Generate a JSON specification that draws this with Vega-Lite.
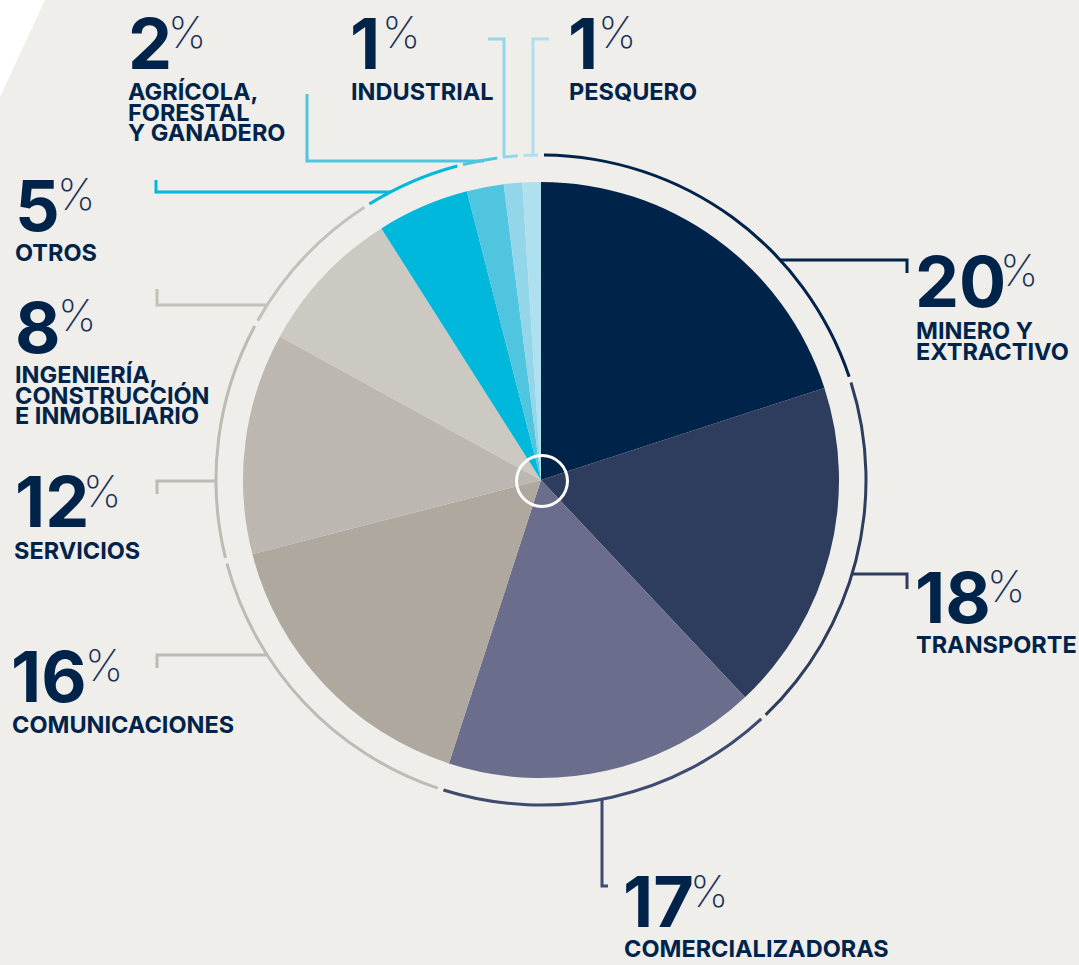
{
  "$schema": "https://vega.github.io/schema/vega-lite/v6.json",
  "width": 1079,
  "height": 965,
  "autosize": {"type": "fit", "contains": "padding"},
  "padding": 0,
  "background": "#EFEEEA",
  "config": {"view": {"stroke": null}},
  "datasets": {
    "sectors": [
      {"rank": 1, "sector": "Minero", "pct": 20},
      {"rank": 2, "sector": "Transporte", "pct": 18},
      {"rank": 3, "sector": "Comercializadoras", "pct": 17},
      {"rank": 4, "sector": "Comunicaciones", "pct": 16},
      {"rank": 5, "sector": "Servicios", "pct": 12},
      {"rank": 6, "sector": "Ingenieria", "pct": 8},
      {"rank": 7, "sector": "Otros", "pct": 5},
      {"rank": 8, "sector": "Agricola", "pct": 2},
      {"rank": 9, "sector": "Industrial", "pct": 1},
      {"rank": 10, "sector": "Pesquero", "pct": 1}
    ],
    "labels": [
      {"sector": "Minero", "pct": 20, "label": "MINERO Y\nEXTRACTIVO", "nx": 915, "ny": 307, "px": 1000, "py": 252, "lx": 916, "ly": 339},
      {"sector": "Transporte", "pct": 18, "label": "TRANSPORTE", "nx": 915, "ny": 623, "px": 987, "py": 568, "lx": 916, "ly": 653},
      {"sector": "Comercializadoras", "pct": 17, "label": "COMERCIALIZADORAS", "nx": 623, "ny": 927, "px": 690, "py": 873, "lx": 624, "ly": 957},
      {"sector": "Comunicaciones", "pct": 16, "label": "COMUNICACIONES", "nx": 11, "ny": 702, "px": 85, "py": 647, "lx": 12, "ly": 733},
      {"sector": "Servicios", "pct": 12, "label": "SERVICIOS", "nx": 15, "ny": 527, "px": 83, "py": 473, "lx": 14, "ly": 559},
      {"sector": "Ingenieria", "pct": 8, "label": "INGENIERÍA,\nCONSTRUCCIÓN\nE INMOBILIARIO", "nx": 15, "ny": 353, "px": 58, "py": 297, "lx": 15, "ly": 383},
      {"sector": "Otros", "pct": 5, "label": "OTROS", "nx": 15, "ny": 231, "px": 57, "py": 176, "lx": 15, "ly": 261},
      {"sector": "Agricola", "pct": 2, "label": "AGRÍCOLA,\nFORESTAL\nY GANADERO", "nx": 128, "ny": 69, "px": 168, "py": 14, "lx": 128, "ly": 100},
      {"sector": "Industrial", "pct": 1, "label": "INDUSTRIAL", "nx": 350, "ny": 69, "px": 382, "py": 14, "lx": 351, "ly": 100},
      {"sector": "Pesquero", "pct": 1, "label": "PESQUERO", "nx": 568, "ny": 69, "px": 598, "py": 14, "lx": 569, "ly": 100}
    ],
    "leaders": [
      {"sector": "Minero", "pt": 1, "x": 780, "y": 260},
      {"sector": "Minero", "pt": 2, "x": 907, "y": 260},
      {"sector": "Minero", "pt": 3, "x": 907, "y": 273},
      {"sector": "Transporte", "pt": 1, "x": 852, "y": 574},
      {"sector": "Transporte", "pt": 2, "x": 907, "y": 574},
      {"sector": "Transporte", "pt": 3, "x": 907, "y": 589},
      {"sector": "Comercializadoras", "pt": 1, "x": 602, "y": 799},
      {"sector": "Comercializadoras", "pt": 2, "x": 602, "y": 886},
      {"sector": "Comercializadoras", "pt": 3, "x": 608, "y": 886},
      {"sector": "Comunicaciones", "pt": 1, "x": 267, "y": 655},
      {"sector": "Comunicaciones", "pt": 2, "x": 157, "y": 655},
      {"sector": "Comunicaciones", "pt": 3, "x": 157, "y": 668},
      {"sector": "Servicios", "pt": 1, "x": 216, "y": 481},
      {"sector": "Servicios", "pt": 2, "x": 157, "y": 481},
      {"sector": "Servicios", "pt": 3, "x": 157, "y": 494},
      {"sector": "Ingenieria", "pt": 1, "x": 267, "y": 305},
      {"sector": "Ingenieria", "pt": 2, "x": 157, "y": 305},
      {"sector": "Ingenieria", "pt": 3, "x": 157, "y": 289},
      {"sector": "Otros", "pt": 1, "x": 390, "y": 192},
      {"sector": "Otros", "pt": 2, "x": 156, "y": 192},
      {"sector": "Otros", "pt": 3, "x": 156, "y": 180},
      {"sector": "Agricola", "pt": 1, "x": 484, "y": 161},
      {"sector": "Agricola", "pt": 2, "x": 307, "y": 161},
      {"sector": "Agricola", "pt": 3, "x": 307, "y": 94},
      {"sector": "Industrial", "pt": 1, "x": 504, "y": 157},
      {"sector": "Industrial", "pt": 2, "x": 504, "y": 39},
      {"sector": "Industrial", "pt": 3, "x": 488, "y": 39},
      {"sector": "Pesquero", "pt": 1, "x": 533, "y": 155},
      {"sector": "Pesquero", "pt": 2, "x": 533, "y": 39},
      {"sector": "Pesquero", "pt": 3, "x": 549, "y": 39}
    ],
    "corner": [
      {"x": 0, "y": 0, "y2": 97},
      {"x": 45, "y": 0, "y2": 0}
    ]
  },
  "layer": [
    {
      "data": {"name": "corner"},
      "mark": {"type": "area", "color": "#FFFFFF"},
      "encoding": {
        "x": {"field": "x", "type": "quantitative", "scale": {"domain": [0, 1079], "nice": false, "zero": false}, "axis": null},
        "y": {"field": "y", "type": "quantitative", "scale": {"domain": [0, 965], "nice": false, "zero": false, "reverse": true}, "axis": null},
        "y2": {"field": "y2"}
      }
    },
    {
      "data": {"name": "sectors"},
      "transform": [{"stack": "pct", "groupby": [], "sort": [{"field": "rank", "order": "ascending"}], "as": ["t0", "t1"]}],
      "mark": {"type": "arc", "radius": 298},
      "encoding": {
        "theta": {"field": "t0", "type": "quantitative", "scale": {"domain": [0, 100]}},
        "theta2": {"field": "t1"},
        "color": {"field": "sector", "type": "nominal", "legend": null,
          "scale": {"domain": ["Minero", "Transporte", "Comercializadoras", "Comunicaciones", "Servicios", "Ingenieria", "Otros", "Agricola", "Industrial", "Pesquero"],
                    "range": ["#00234A", "#2E3D5E", "#6A6E8C", "#AFA89F", "#BCB7B0", "#CCC8C2", "#00B8DC", "#4FC5E0", "#93D6EA", "#AEE0EF"]}},
        "x": {"datum": 541, "type": "quantitative"},
        "y": {"datum": 480, "type": "quantitative"}
      }
    },
    {
      "data": {"name": "sectors"},
      "transform": [{"stack": "pct", "groupby": [], "sort": [{"field": "rank", "order": "ascending"}], "as": ["t0", "t1"]}],
      "mark": {"type": "arc", "radius": 326.5, "radius2": 323.5, "padAngle": 0.013},
      "encoding": {
        "theta": {"field": "t0", "type": "quantitative", "scale": {"domain": [0, 100]}},
        "theta2": {"field": "t1"},
        "color": {"field": "sector", "type": "nominal", "legend": null,
          "scale": {"domain": ["Minero", "Transporte", "Comercializadoras", "Comunicaciones", "Servicios", "Ingenieria", "Otros", "Agricola", "Industrial", "Pesquero"],
                    "range": ["#00234A", "#2E3D5E", "#3E4A6F", "#BFBAB3", "#BFBAB3", "#C4C0BA", "#00B8DC", "#4FC5E0", "#93D6EA", "#ADE0EE"]}},
        "x": {"datum": 541, "type": "quantitative"},
        "y": {"datum": 480, "type": "quantitative"}
      }
    },
    {
      "data": {"values": [{}]},
      "mark": {"type": "arc", "radius": 27, "radius2": 24, "theta": 0, "theta2": 6.2832, "color": "#FFFFFF"},
      "encoding": {
        "x": {"datum": 542, "type": "quantitative"},
        "y": {"datum": 481, "type": "quantitative"}
      }
    },
    {
      "data": {"name": "leaders"},
      "mark": {"type": "line", "strokeWidth": 3, "strokeJoin": "miter", "strokeCap": "butt"},
      "encoding": {
        "x": {"field": "x", "type": "quantitative"},
        "y": {"field": "y", "type": "quantitative"},
        "detail": {"field": "sector", "type": "nominal"},
        "order": {"field": "pt", "type": "quantitative"},
        "color": {"field": "sector", "type": "nominal", "legend": null,
          "scale": {"domain": ["Minero", "Transporte", "Comercializadoras", "Comunicaciones", "Servicios", "Ingenieria", "Otros", "Agricola", "Industrial", "Pesquero"],
                    "range": ["#00234A", "#2E3D5E", "#3E4A6F", "#BFBAB3", "#BFBAB3", "#C4C0BA", "#00B8DC", "#4FC5E0", "#93D6EA", "#ADE0EE"]}}
      }
    },
    {
      "data": {"name": "labels"},
      "mark": {"type": "text", "align": "left", "baseline": "alphabetic", "font": "Inter", "fontSize": 70, "fontWeight": 700, "color": "#00234A"},
      "encoding": {
        "x": {"field": "nx", "type": "quantitative"},
        "y": {"field": "ny", "type": "quantitative"},
        "text": {"field": "pct", "type": "quantitative"}
      }
    },
    {
      "data": {"name": "labels"},
      "mark": {"type": "text", "align": "left", "baseline": "top", "font": "Inter", "fontSize": 43, "fontWeight": 200, "color": "#1B3258", "text": "%"},
      "encoding": {
        "x": {"field": "px", "type": "quantitative"},
        "y": {"field": "py", "type": "quantitative"}
      }
    },
    {
      "data": {"name": "labels"},
      "mark": {"type": "text", "align": "left", "baseline": "alphabetic", "font": "Inter", "fontSize": 23.5, "fontWeight": 700, "lineBreak": "\n", "lineHeight": 20.5, "color": "#00234A"},
      "encoding": {
        "x": {"field": "lx", "type": "quantitative"},
        "y": {"field": "ly", "type": "quantitative"},
        "text": {"field": "label", "type": "nominal"}
      }
    }
  ],
  "resolve": {"scale": {"color": "independent"}}
}
